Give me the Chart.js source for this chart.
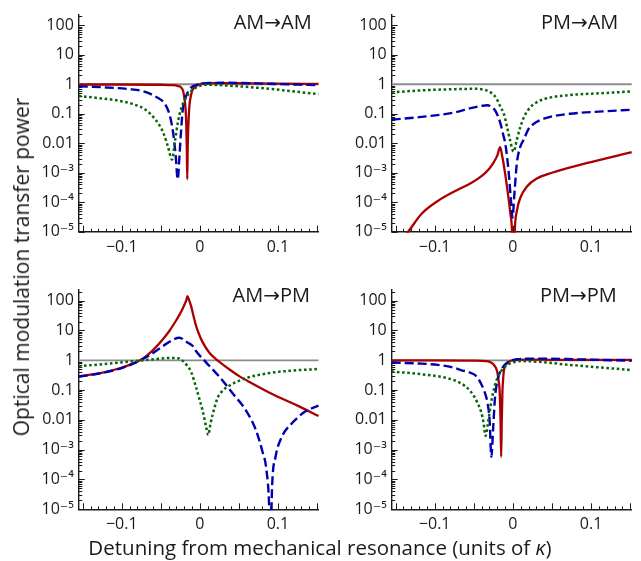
<!DOCTYPE html>
<html>
<head>
<meta charset="utf-8">
<script src="https://cdn.jsdelivr.net/npm/chart.js@4.4.1/dist/chart.umd.min.js"></script>
<style>
  body { margin: 0; background: #fff; }
  #fig { position: relative; width: 641px; height: 561px; font-family: "Open Sans", "DejaVu Sans", sans-serif; color: #1a1a1a; }
  .panel { position: absolute; }
  #ylabel { position: absolute; left: 21px; top: 267px; transform: translate(-50%, -50%) rotate(-90deg); white-space: nowrap; font-size: 21px; }
  #xlabel { position: absolute; left: 320px; top: 547px; transform: translate(-50%, -50%); white-space: nowrap; font-size: 20.5px; }
</style>
</head>
<body>
<div id="fig">
  <canvas id="c1" class="panel"></canvas>
  <canvas id="c2" class="panel"></canvas>
  <canvas id="c3" class="panel"></canvas>
  <canvas id="c4" class="panel"></canvas>
  <div id="ylabel">Optical modulation transfer power</div>
  <div id="xlabel">Detuning from mechanical resonance (units of <i>κ</i>)</div>
</div>
<script>
// axis ticks
const xTickValues = [-0.1, 0, 0.1];
const xTickLabels = ["\u22120.1", "0", "0.1"];
const yTickValues = [1e-5, 1e-4, 1e-3, 0.01, 0.1, 1, 10, 100];
const yTickLabels = ["10\u207b\u2075", "10\u207b\u2074", "10\u207b\u00b3", "0.01", "0.1", "1", "10", "100"];
const X_MIN = -0.155, X_MAX = 0.152;
const Y_MIN = 1e-5, Y_MAX = 230;

// unity reference line
const unityX = [-0.155, 0.152];
const unityY = [1, 1];

// AM -> AM
const amamRedX = [-0.155, -0.1, -0.05, -0.035, -0.028, -0.024, -0.0215, -0.0196, -0.0183, -0.0174, -0.0167, -0.0161, -0.0155, -0.0145, -0.0132, -0.0115, -0.0098, -0.0075, -0.0047, 0, 0.004, 0.015, 0.05, 0.1, 0.152];
const amamRedY = [0.98, 0.98, 0.96, 0.93, 0.87, 0.78, 0.6, 0.32, 0.15, 0.05, 0.008, 0.0006, 0.008, 0.05, 0.2, 0.4, 0.6, 0.75, 0.88, 1.0, 1.06, 1.1, 1.08, 1.05, 1.03];
const amamBlueX = [-0.155, -0.12, -0.09, -0.075, -0.064, -0.055, -0.047, -0.042, -0.0386, -0.0344, -0.031, -0.0283, -0.026, -0.0238, -0.0217, -0.0174, -0.011, -0.005, 0, 0.012, 0.03, 0.08, 0.152];
const amamBlueY = [0.85, 0.78, 0.68, 0.6, 0.48, 0.36, 0.26, 0.16, 0.09, 0.025, 0.004, 0.0006, 0.004, 0.032, 0.15, 0.41, 0.78, 0.93, 1.0, 1.1, 1.12, 1.05, 0.93];
const amamGreenX = [-0.155, -0.13, -0.105, -0.085, -0.07, -0.06, -0.052, -0.046, -0.041, -0.0355, -0.032, -0.028, -0.024, -0.0174, -0.009, 0, 0.008, 0.02, 0.042, 0.084, 0.152];
const amamGreenY = [0.4, 0.34, 0.28, 0.21, 0.14, 0.08, 0.042, 0.02, 0.008, 0.0028, 0.011, 0.053, 0.147, 0.36, 0.65, 0.88, 0.96, 0.95, 0.88, 0.72, 0.46];

// PM -> AM
const pmamRedX = [-0.155, -0.134, -0.117, -0.096, -0.075, -0.064, -0.054, -0.045, -0.037, -0.03, -0.0243, -0.02, -0.0163, -0.0135, -0.0117, -0.0074, -0.0032, -0.001, 0.0006, 0.0023, 0.0053, 0.0095, 0.018, 0.0307, 0.05, 0.094, 0.152];
const pmamRedY = [2.5e-6, 1e-5, 4e-5, 1.1e-4, 2.3e-4, 3.2e-4, 4.4e-4, 6.2e-4, 9e-4, 1.4e-3, 2.3e-3, 3.8e-3, 7.3e-3, 3.5e-3, 1.9e-3, 3.2e-4, 4.1e-5, 9e-6, 1e-7, 9e-6, 5.3e-5, 1.4e-4, 3.4e-4, 6.4e-4, 1e-3, 2.1e-3, 5e-3];
const pmamBlueX = [-0.155, -0.117, -0.075, -0.054, -0.04, -0.033, -0.027, -0.022, -0.016, -0.0125, -0.0095, -0.0053, -0.0023, -0.0005, 0.002, 0.005, 0.009, 0.0137, 0.02, 0.0264, 0.043, 0.073, 0.115, 0.152];
const pmamBlueY = [0.063, 0.078, 0.11, 0.155, 0.185, 0.195, 0.17, 0.12, 0.048, 0.02, 0.009, 0.001, 1e-4, 3e-5, 2e-4, 2e-3, 7e-3, 0.013, 0.03, 0.045, 0.072, 0.1, 0.12, 0.136];
const pmamGreenX = [-0.155, -0.117, -0.075, -0.05, -0.038, -0.0285, -0.021, -0.0159, -0.0116, -0.0074, -0.004, 0.001, 0.005, 0.0095, 0.014, 0.02, 0.03, 0.045, 0.073, 0.115, 0.152];
const pmamGreenY = [0.53, 0.62, 0.68, 0.7, 0.66, 0.53, 0.33, 0.17, 0.1, 0.035, 0.014, 0.0052, 0.013, 0.035, 0.075, 0.14, 0.24, 0.34, 0.43, 0.5, 0.57];

// AM -> PM
const ampmRedX = [-0.155, -0.1275, -0.106, -0.085, -0.0725, -0.06, -0.047, -0.0386, -0.03, -0.026, -0.0217, -0.0196, -0.0175, -0.0158, -0.0135, -0.011, -0.008, -0.0047, -0.001, 0.0037, 0.0122, 0.0207, 0.03, 0.0376, 0.05, 0.063, 0.088, 0.105, 0.1265, 0.152];
const ampmRedY = [0.29, 0.37, 0.51, 0.79, 1.16, 2.2, 5.2, 10, 22.5, 34, 56, 74, 100, 141, 100, 63, 30, 14, 7.5, 4.0, 1.8, 1.1, 0.7, 0.5, 0.3, 0.19, 0.085, 0.052, 0.029, 0.0135];
const ampmBlueX = [-0.155, -0.12, -0.1, -0.085, -0.064, -0.047, -0.035, -0.026, -0.0175, -0.009, -0.0047, 0.008, 0.025, 0.042, 0.059, 0.0715, 0.08, 0.0854, 0.0889, 0.0905, 0.0918, 0.0927, 0.097, 0.105, 0.118, 0.135, 0.152];
const ampmBlueY = [0.28, 0.4, 0.55, 0.78, 1.5, 3.0, 4.8, 5.7, 4.2, 3.0, 2.0, 0.85, 0.28, 0.078, 0.021, 4.8e-3, 9e-4, 2e-4, 1e-5, 1e-7, 1e-5, 7e-5, 5.8e-4, 2.7e-3, 7.7e-3, 0.019, 0.03];
const ampmGreenX = [-0.155, -0.106, -0.077, -0.051, -0.035, -0.028, -0.0217, -0.016, -0.011, -0.0047, 0, 0.0037, 0.008, 0.0108, 0.0135, 0.0164, 0.0228, 0.03, 0.0376, 0.059, 0.088, 0.118, 0.152];
const ampmGreenY = [0.63, 0.82, 0.97, 1.14, 1.2, 1.18, 0.95, 0.65, 0.4, 0.12, 0.045, 0.02, 0.006, 0.0031, 0.007, 0.015, 0.055, 0.1, 0.14, 0.25, 0.37, 0.45, 0.51];

// PM -> PM
const pmpmRedX = [-0.155, -0.1, -0.05, -0.035, -0.028, -0.0243, -0.02, -0.0182, -0.017, -0.0158, -0.015, -0.0142, -0.0133, -0.0125, -0.0117, -0.0074, -0.001, 0.0137, 0.05, 0.1, 0.152];
const pmpmRedY = [1.0, 1.0, 0.98, 0.94, 0.85, 0.7, 0.41, 0.2, 0.1, 0.01, 5.8e-4, 0.01, 0.1, 0.22, 0.41, 0.79, 1.0, 1.05, 1.04, 1.03, 1.03];
const pmpmBlueX = [-0.155, -0.12, -0.096, -0.075, -0.0666, -0.054, -0.0454, -0.041, -0.037, -0.0327, -0.0298, -0.0275, -0.0251, -0.023, -0.02, -0.0165, -0.0116, -0.006, 0.0053, 0.0306, 0.08, 0.152];
const pmpmBlueY = [0.84, 0.78, 0.7, 0.56, 0.47, 0.38, 0.27, 0.17, 0.1, 0.04, 0.01, 5.8e-4, 6e-3, 0.05, 0.2, 0.4, 0.65, 0.88, 1.08, 1.14, 1.08, 0.97];
const pmpmGreenX = [-0.155, -0.117, -0.0835, -0.0666, -0.054, -0.0454, -0.0405, -0.0375, -0.0349, -0.0325, -0.0306, -0.0264, -0.02, -0.0117, -0.005, 0.001, 0.012, 0.03, 0.073, 0.152];
const pmpmGreenY = [0.42, 0.34, 0.25, 0.17, 0.09, 0.038, 0.018, 0.008, 0.0029, 0.006, 0.013, 0.06, 0.25, 0.55, 0.75, 0.86, 0.94, 0.9, 0.7, 0.47];

const RED = "#aa0000", BLUE = "#0000b0", GREEN = "#0a640a", GRAY = "#8c8c8c", AXIS = "#1a1a1a";
const FONT = "'Open Sans', 'DejaVu Sans', sans-serif";

const pts = (xs, ys) => xs.map((x, i) => ({ x: x, y: ys[i] }));

// inward tick marks, majors longer
const tickMarks = {
  id: "tickMarks",
  beforeDatasetsDraw(chart) {
    const { ctx, chartArea: a, scales: { x, y } } = chart;
    ctx.save();
    ctx.strokeStyle = AXIS;
    ctx.lineWidth = 1;
    ctx.beginPath();
    for (let k = -15; k <= 15; k++) {
      const px = Math.round(x.getPixelForValue(k / 100)) + 0.5;
      const len = k % 5 === 0 ? 6 : 3;
      ctx.moveTo(px, a.bottom);
      ctx.lineTo(px, a.bottom - len);
    }
    for (let e = -5; e <= 2; e++) {
      for (let m = 1; m <= 9; m++) {
        const v = m * Math.pow(10, e);
        if (v > y.max) break;
        const py = Math.round(y.getPixelForValue(v)) + 0.5;
        ctx.moveTo(a.left, py);
        ctx.lineTo(a.left + (m === 1 ? 6 : 3.5), py);
      }
    }
    ctx.stroke();
    ctx.restore();
  },
};

const panelLabel = {
  id: "panelLabel",
  afterDraw(chart, args, opts) {
    const ctx = chart.ctx;
    ctx.save();
    ctx.font = "20px " + FONT;
    ctx.fillStyle = AXIS;
    ctx.textAlign = "right";
    ctx.textBaseline = "middle";
    ctx.fillText(opts.text, opts.x, opts.y);
    ctx.restore();
  },
};

function makePanel(id, box, label, red, blue, green) {
  const canvas = document.getElementById(id);
  canvas.style.left = box.left + "px";
  canvas.style.top = box.top + "px";
  canvas.width = box.w;
  canvas.height = box.h;
  canvas.style.width = box.w + "px";
  canvas.style.height = box.h + "px";

  const line = (data, color, extra) =>
    Object.assign({ data: data, borderColor: color, borderWidth: 2.3, pointRadius: 0, fill: false, clip: 1 }, extra);

  new Chart(canvas.getContext("2d"), {
    type: "line",
    data: {
      datasets: [
        line(pts(unityX, unityY), GRAY, { borderWidth: 1.8, order: 4 }),
        line(red, RED, { order: 3 }),
        line(blue, BLUE, { borderDash: [9, 4], borderWidth: 2.4, order: 2 }),
        line(green, GREEN, { borderDash: [2.6, 2.6], borderWidth: 2.5, order: 1 }),
      ],
    },
    options: {
      responsive: false,
      animation: false,
      devicePixelRatio: 1,
      layout: { padding: { top: box.padTop, right: box.padRight, left: 0, bottom: 0 } },
      elements: { line: { cubicInterpolationMode: "monotone" } },
      plugins: {
        legend: { display: false },
        tooltip: { enabled: false },
        panelLabel: { text: label, x: box.labelX, y: box.labelY },
      },
      scales: {
        x: {
          type: "linear",
          min: X_MIN,
          max: X_MAX,
          grid: { display: false, drawTicks: false },
          border: { display: true, color: AXIS, width: 1.4 },
          ticks: {
            autoSkip: false,
            maxRotation: 0,
            padding: 6,
            color: AXIS,
            font: { family: FONT, size: 16 },
            callback: (v) => xTickLabels[xTickValues.indexOf(v)],
          },
          afterBuildTicks: (s) => { s.ticks = xTickValues.map((v) => ({ value: v })); },
          afterFit: (s) => { s.height = box.xAxisH; },
        },
        y: {
          type: "logarithmic",
          min: Y_MIN,
          max: Y_MAX,
          grid: { display: false, drawTicks: false },
          border: { display: true, color: AXIS, width: 1.4 },
          ticks: {
            autoSkip: false,
            padding: 5,
            color: AXIS,
            font: { family: FONT, size: 16 },
            callback: (v) => yTickLabels[yTickValues.indexOf(v)],
          },
          afterBuildTicks: (s) => { s.ticks = yTickValues.map((v) => ({ value: v })); },
          afterFit: (s) => { s.width = box.yAxisW; },
        },
      },
    },
    plugins: [tickMarks, panelLabel],
  });
}

makePanel("c1", { left: 0, top: 0, w: 322, h: 262, yAxisW: 78.8, padRight: 3.5, padTop: 10.9, xAxisH: 30.3, labelX: 311.7, labelY: 23 },
  "AM\u2192AM", pts(amamRedX, amamRedY), pts(amamBlueX, amamBlueY), pts(amamGreenX, amamGreenY));
makePanel("c2", { left: 322, top: 0, w: 319, h: 262, yAxisW: 69.7, padRight: 9.3, padTop: 10.9, xAxisH: 30.3, labelX: 296.3, labelY: 23 },
  "PM\u2192AM", pts(pmamRedX, pmamRedY), pts(pmamBlueX, pmamBlueY), pts(pmamGreenX, pmamGreenY));
makePanel("c3", { left: 0, top: 270, w: 322, h: 270, yAxisW: 78.8, padRight: 3.5, padTop: 19.9, xAxisH: 30.7, labelX: 310, labelY: 26.7 },
  "AM\u2192PM", pts(ampmRedX, ampmRedY), pts(ampmBlueX, ampmBlueY), pts(ampmGreenX, ampmGreenY));
makePanel("c4", { left: 322, top: 270, w: 319, h: 270, yAxisW: 69.7, padRight: 9.3, padTop: 19.9, xAxisH: 30.7, labelX: 294.7, labelY: 26.7 },
  "PM\u2192PM", pts(pmpmRedX, pmpmRedY), pts(pmpmBlueX, pmpmBlueY), pts(pmpmGreenX, pmpmGreenY));
</script>
</body>
</html>
